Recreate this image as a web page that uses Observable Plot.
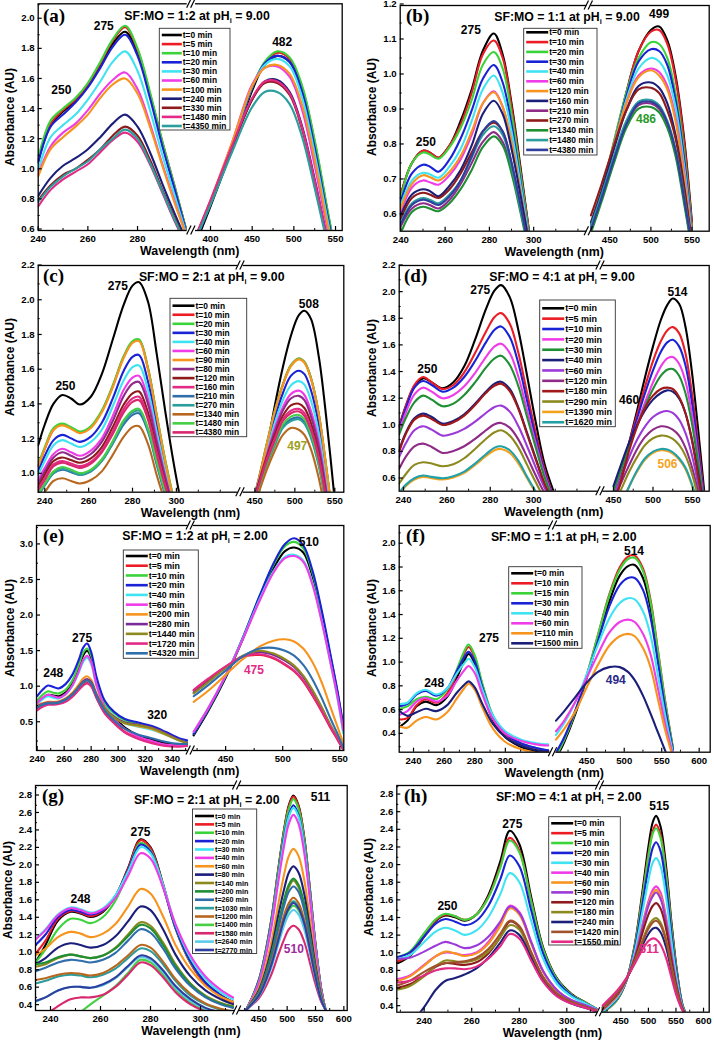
<!DOCTYPE html>
<html><head><meta charset="utf-8">
<script src="https://cdn.jsdelivr.net/npm/d3@7"></script>
<script src="https://cdn.jsdelivr.net/npm/@observablehq/plot@0.6"></script>
<style>
body{margin:0;background:#fff;}
#wrap{position:relative;width:714px;height:1040px;background:#fff;}
.panel{position:absolute;width:357px;height:260px;}
</style></head><body><div id="wrap"></div>
<script>
// ---------- palette ----------
const K = {black:"#000000", red:"#ec1c24", green:"#3ad33a", blue:"#1a22d6", cyan:"#3fe3f2", magenta:"#f03ce8",
  orange:"#f7941e", navy:"#1b1f7a", maroon:"#8e1b1b", deeppink:"#e32a85", teal:"#2b9d9d", violet:"#9b3ad8",
  purple:"#8e2c88", dkgreen:"#1f8f33", olive:"#8c8a1e", steel:"#2f6eaa", brown:"#b8681e", ltcyan:"#5ccbeb",
  navyblue:"#2e3f9e", ltgreen:"#46cf46", pink:"#d8286e"};

// ---------- (a) SF:MO = 1:2, pHi 9.00 ----------
const aNames = ["t=0 min","t=5 min","t=10 min","t=20 min","t=30 min","t=60 min","t=100 min","t=240 min","t=330 min","t=1480 min","t=4350 min"];
const aColors = [K.black,K.red,K.green,K.blue,K.cyan,K.magenta,K.orange,K.navy,K.maroon,K.deeppink,K.teal];
const aLeftX = [240,245,250,255,260,265,270,275,280,285,290,295,300];
const aLeftY = [
 [1.06,1.30,1.39,1.46,1.56,1.70,1.84,1.92,1.78,1.50,1.18,0.88,0.58],
 [1.07,1.31,1.40,1.47,1.57,1.71,1.86,1.95,1.80,1.51,1.19,0.89,0.58],
 [1.08,1.33,1.41,1.48,1.58,1.72,1.87,1.96,1.81,1.52,1.19,0.89,0.58],
 [1.05,1.29,1.37,1.45,1.55,1.68,1.82,1.90,1.76,1.48,1.16,0.87,0.57],
 [1.00,1.22,1.30,1.37,1.47,1.59,1.72,1.79,1.66,1.40,1.10,0.83,0.56],
 [0.97,1.16,1.25,1.31,1.40,1.51,1.60,1.65,1.54,1.31,1.04,0.79,0.55],
 [0.96,1.14,1.22,1.29,1.37,1.48,1.57,1.61,1.51,1.29,1.03,0.78,0.55],
 [0.83,0.95,1.03,1.08,1.14,1.22,1.31,1.37,1.29,1.12,0.91,0.71,0.52],
 [0.80,0.90,0.97,1.01,1.07,1.14,1.23,1.29,1.23,1.07,0.87,0.68,0.50],
 [0.76,0.87,0.94,0.99,1.04,1.12,1.20,1.25,1.19,1.04,0.85,0.66,0.49],
 [0.79,0.89,0.96,1.01,1.06,1.14,1.21,1.27,1.21,1.05,0.86,0.67,0.50]];
const aRightX = [385,400,425,450,465,480,495,510,525,540,550];
const aRightY = [
 [0.55,0.76,1.13,1.53,1.70,1.76,1.72,1.53,1.17,0.73,0.44],
 [0.58,0.78,1.15,1.55,1.71,1.78,1.74,1.55,1.19,0.74,0.45],
 [0.58,0.78,1.15,1.55,1.72,1.79,1.75,1.56,1.20,0.75,0.45],
 [0.57,0.78,1.15,1.55,1.71,1.76,1.72,1.52,1.15,0.71,0.43],
 [0.58,0.79,1.16,1.56,1.70,1.74,1.69,1.48,1.11,0.68,0.40],
 [0.59,0.80,1.17,1.57,1.68,1.69,1.62,1.40,1.03,0.62,0.38],
 [0.60,0.80,1.17,1.56,1.68,1.70,1.64,1.43,1.07,0.65,0.39],
 [0.59,0.79,1.14,1.47,1.59,1.60,1.52,1.29,0.94,0.55,0.33],
 [0.59,0.79,1.14,1.47,1.58,1.58,1.50,1.27,0.92,0.54,0.32],
 [0.60,0.80,1.15,1.48,1.59,1.59,1.51,1.28,0.93,0.55,0.33],
 [0.58,0.77,1.11,1.42,1.52,1.52,1.44,1.22,0.88,0.52,0.31]];
const aXTicks = [240,260,280,400,450,500,550];
const aYTicks = [0.6,0.8,1.0,1.2,1.4,1.6,1.8,2.0];
const aNoteText = ["275","250","482"], aNoteX = [266.4,249.3,486], aNoteY = [1.956,1.53,1.848], aNoteC = [K.black,K.black,K.black];

// ---------- (b) SF:MO = 1:1, pHi 9.00 ----------
const bNames = ["t=0 min","t=10 min","t=20 min","t=30 min","t=40 min","t=60 min","t=120 min","t=160 min","t=210 min","t=270 min","t=1340 min","t=1480 min","t=4380 min"];
const bColors = [K.black,K.red,K.green,K.blue,K.cyan,K.magenta,K.orange,K.navy,K.purple,K.maroon,K.dkgreen,K.teal,K.navyblue];
const bLeftX = [240,245,250,253,257,262,267,272,277,282,286,290,294,298];
const bLeftY = [
 [0.66,0.75,0.785,0.78,0.765,0.80,0.87,0.96,1.07,1.12,1.06,0.92,0.74,0.55],
 [0.66,0.75,0.785,0.78,0.765,0.80,0.86,0.95,1.06,1.10,1.05,0.91,0.73,0.55],
 [0.65,0.75,0.78,0.775,0.762,0.795,0.85,0.93,1.03,1.067,1.02,0.89,0.72,0.54],
 [0.64,0.72,0.745,0.74,0.725,0.76,0.82,0.90,0.99,1.03,0.98,0.86,0.70,0.53],
 [0.63,0.70,0.722,0.718,0.708,0.74,0.79,0.87,0.96,1.00,0.95,0.84,0.69,0.53],
 [0.61,0.68,0.70,0.695,0.688,0.715,0.76,0.83,0.92,0.955,0.91,0.81,0.67,0.52],
 [0.62,0.69,0.715,0.71,0.70,0.725,0.77,0.84,0.92,0.952,0.91,0.81,0.67,0.52],
 [0.60,0.66,0.675,0.67,0.655,0.685,0.73,0.80,0.89,0.928,0.89,0.79,0.66,0.52],
 [0.57,0.62,0.635,0.63,0.62,0.645,0.69,0.75,0.81,0.838,0.81,0.73,0.62,0.50],
 [0.59,0.65,0.665,0.66,0.65,0.675,0.72,0.78,0.84,0.865,0.84,0.75,0.63,0.50],
 [0.55,0.61,0.625,0.62,0.612,0.635,0.675,0.73,0.795,0.826,0.80,0.72,0.61,0.49],
 [0.58,0.635,0.65,0.645,0.635,0.66,0.70,0.765,0.83,0.855,0.83,0.74,0.62,0.50],
 [0.575,0.63,0.645,0.64,0.63,0.655,0.70,0.77,0.84,0.87,0.84,0.75,0.63,0.50]];
const bRightX = [427,440,455,470,485,500,510,520,530,540,550];
const bRightY = [
 [0.56,0.66,0.80,0.95,1.07,1.13,1.14,1.10,1.00,0.83,0.58],
 [0.57,0.67,0.81,0.95,1.07,1.125,1.13,1.09,0.99,0.82,0.57],
 [0.57,0.67,0.81,0.95,1.05,1.095,1.09,1.05,0.95,0.79,0.56],
 [0.57,0.67,0.80,0.94,1.04,1.075,1.07,1.03,0.93,0.77,0.55],
 [0.56,0.66,0.80,0.93,1.02,1.05,1.04,1.00,0.91,0.75,0.54],
 [0.57,0.67,0.80,0.92,1.00,1.02,1.01,0.97,0.88,0.73,0.53],
 [0.58,0.68,0.80,0.92,0.995,1.015,1.00,0.96,0.87,0.72,0.53],
 [0.58,0.67,0.79,0.90,0.97,0.98,0.965,0.92,0.83,0.69,0.52],
 [0.56,0.65,0.76,0.86,0.915,0.92,0.905,0.86,0.78,0.65,0.50],
 [0.60,0.69,0.80,0.90,0.96,0.965,0.95,0.90,0.82,0.68,0.52],
 [0.55,0.64,0.75,0.85,0.905,0.91,0.895,0.85,0.77,0.64,0.50],
 [0.57,0.66,0.77,0.87,0.925,0.93,0.915,0.87,0.79,0.66,0.51],
 [0.56,0.65,0.76,0.86,0.92,0.925,0.91,0.865,0.785,0.655,0.51]];
const bXTicks = [240,260,280,300,450,500,550];
const bYTicks = [0.6,0.7,0.8,0.9,1.0,1.1,1.2];
const bNoteText = ["275","250","499","486"], bNoteX = [271.6,251.3,510,494], bNoteY = [1.13,0.81,1.176,0.876], bNoteC = [K.black,K.black,K.black,"#2a9a2a"];

// ---------- (c) SF:MO = 2:1, pHi 9.00 ----------
const cNames = ["t=0 min","t=10 min","t=20 min","t=30 min","t=40 min","t=60 min","t=90 min","t=80 min","t=120 min","t=160 min","t=210 min","t=270 min","t=1340 min","t=1480 min","t=4380 min"];
const cColors = [K.black,K.red,K.green,K.blue,K.cyan,K.magenta,K.orange,K.purple,K.maroon,K.deeppink,K.steel,K.teal,K.brown,K.ltgreen,K.pink];
const cLeftX = [237,240,244,248,252,256,261,266,271,276,280,283,287,291,295,299,303];
const cLeftY = [
 [1.17,1.29,1.41,1.46,1.44,1.405,1.45,1.58,1.78,1.98,2.09,2.11,2.00,1.70,1.36,1.05,0.78],
 [1.05,1.15,1.26,1.29,1.27,1.245,1.275,1.365,1.51,1.68,1.765,1.775,1.615,1.345,1.075,0.845,0.64],
 [1.06,1.16,1.27,1.295,1.275,1.25,1.28,1.37,1.515,1.685,1.77,1.78,1.62,1.35,1.08,0.85,0.65],
 [1.02,1.11,1.20,1.23,1.21,1.19,1.22,1.30,1.44,1.60,1.68,1.69,1.54,1.29,1.04,0.83,0.64],
 [1.00,1.08,1.17,1.20,1.18,1.16,1.19,1.26,1.395,1.545,1.62,1.63,1.49,1.25,1.02,0.82,0.63],
 [0.97,1.04,1.12,1.15,1.13,1.11,1.14,1.21,1.34,1.49,1.56,1.57,1.44,1.21,0.99,0.80,0.62],
 [1.05,1.15,1.26,1.285,1.265,1.24,1.27,1.36,1.505,1.675,1.76,1.77,1.61,1.34,1.07,0.84,0.64],
 [0.95,1.02,1.10,1.13,1.11,1.09,1.12,1.19,1.31,1.455,1.525,1.535,1.41,1.19,0.98,0.79,0.61],
 [0.93,1.00,1.08,1.10,1.085,1.07,1.095,1.16,1.275,1.405,1.47,1.48,1.36,1.15,0.95,0.77,0.60],
 [0.92,0.98,1.06,1.08,1.065,1.05,1.075,1.14,1.25,1.38,1.44,1.45,1.33,1.13,0.94,0.76,0.60],
 [0.88,0.94,1.01,1.03,1.015,1.00,1.02,1.08,1.18,1.29,1.345,1.355,1.25,1.06,0.88,0.72,0.58],
 [0.88,0.94,1.01,1.035,1.02,1.00,1.02,1.08,1.185,1.305,1.36,1.37,1.26,1.07,0.89,0.73,0.58],
 [0.85,0.90,0.965,0.98,0.965,0.95,0.97,1.02,1.115,1.22,1.275,1.28,1.18,1.00,0.84,0.70,0.56],
 [0.89,0.95,1.02,1.045,1.03,1.01,1.03,1.09,1.195,1.315,1.37,1.38,1.27,1.08,0.90,0.74,0.59],
 [0.91,0.97,1.05,1.07,1.055,1.04,1.065,1.13,1.235,1.36,1.42,1.43,1.32,1.12,0.93,0.76,0.60]];
const cRightX = [445,455,465,475,485,495,505,512,520,530,540,550];
const cRightY = [
 [0.70,0.90,1.15,1.40,1.62,1.80,1.92,1.945,1.90,1.68,1.30,0.85],
 [0.80,0.98,1.18,1.37,1.52,1.63,1.67,1.65,1.56,1.35,1.02,0.65],
 [0.80,0.98,1.18,1.37,1.52,1.63,1.67,1.65,1.56,1.35,1.02,0.65],
 [0.80,0.97,1.16,1.33,1.47,1.57,1.60,1.58,1.49,1.29,0.98,0.62],
 [0.80,0.97,1.14,1.30,1.43,1.515,1.54,1.52,1.43,1.24,0.94,0.60],
 [0.80,0.96,1.12,1.27,1.39,1.465,1.485,1.46,1.37,1.19,0.90,0.58],
 [0.795,0.975,1.175,1.365,1.515,1.625,1.665,1.645,1.555,1.345,1.015,0.645],
 [0.80,0.96,1.11,1.25,1.37,1.44,1.455,1.43,1.34,1.16,0.88,0.56],
 [0.80,0.95,1.10,1.23,1.34,1.40,1.41,1.385,1.30,1.12,0.85,0.55],
 [0.79,0.94,1.09,1.21,1.32,1.37,1.38,1.355,1.27,1.10,0.84,0.54],
 [0.78,0.93,1.065,1.18,1.28,1.32,1.33,1.305,1.225,1.06,0.81,0.52],
 [0.78,0.92,1.06,1.17,1.27,1.31,1.32,1.295,1.215,1.05,0.80,0.52],
 [0.76,0.90,1.03,1.14,1.23,1.27,1.26,1.23,1.15,0.98,0.74,0.48],
 [0.78,0.93,1.07,1.19,1.29,1.335,1.345,1.32,1.24,1.07,0.82,0.53],
 [0.79,0.94,1.08,1.20,1.31,1.355,1.365,1.34,1.26,1.09,0.83,0.54]];
const cXTicks = [240,260,280,300,450,500,550];
const cYTicks = [1.0,1.2,1.4,1.6,1.8,2.0,2.2];
const cNoteText = ["275","250","508","497"], cNoteX = [273.3,249.4,517.5,503], cNoteY = [2.085,1.513,1.985,1.167], cNoteC = [K.black,K.black,K.black,"#a0a020"];

// ---------- (d) SF:MO = 4:1, pHi 9.00 ----------
const dNames = ["t=0 min","t=5 min","t=10 min","t=20 min","t=30 min","t=40 min","t=60 min","t=120 min","t=180 min","t=290 min","t=1390 min","t=1620 min"];
const dColors = [K.black,K.red,K.blue,K.magenta,K.dkgreen,K.navy,K.violet,K.purple,"#a01818",K.olive,"#f5a31e","#22a0a8"];
const dLeftX = [238,241,245,249,253,258,263,268,273,278,282,285,289,293,297,301,305,309];
const dLeftY = [
 [1.00,1.15,1.30,1.36,1.33,1.285,1.33,1.45,1.65,1.88,2.02,2.06,1.97,1.72,1.38,1.03,0.72,0.52],
 [0.99,1.15,1.31,1.37,1.33,1.28,1.31,1.405,1.55,1.71,1.82,1.85,1.77,1.55,1.25,0.95,0.68,0.48],
 [0.98,1.13,1.29,1.34,1.31,1.26,1.29,1.37,1.49,1.63,1.725,1.75,1.67,1.47,1.19,0.91,0.66,0.47],
 [0.96,1.10,1.24,1.29,1.26,1.21,1.235,1.30,1.40,1.52,1.60,1.62,1.55,1.37,1.12,0.87,0.64,0.46],
 [0.94,1.06,1.18,1.23,1.20,1.15,1.17,1.235,1.33,1.44,1.51,1.53,1.46,1.30,1.07,0.84,0.62,0.45],
 [0.82,0.95,1.06,1.095,1.07,1.02,1.04,1.09,1.17,1.26,1.32,1.335,1.28,1.14,0.95,0.76,0.57,0.43],
 [0.77,0.87,0.97,1.00,0.975,0.93,0.945,0.98,1.035,1.10,1.145,1.155,1.11,1.00,0.85,0.69,0.54,0.42],
 [0.68,0.77,0.85,0.87,0.845,0.80,0.815,0.85,0.905,0.97,1.015,1.025,0.99,0.90,0.77,0.63,0.50,0.40],
 [0.81,0.94,1.05,1.08,1.055,1.01,1.03,1.08,1.16,1.25,1.305,1.32,1.265,1.13,0.94,0.75,0.57,0.43],
 [0.57,0.64,0.71,0.73,0.72,0.70,0.715,0.76,0.83,0.905,0.955,0.97,0.93,0.84,0.71,0.58,0.46,0.38],
 [0.49,0.55,0.60,0.62,0.61,0.60,0.615,0.65,0.71,0.775,0.82,0.83,0.80,0.72,0.61,0.50,0.40,0.33],
 [0.50,0.56,0.61,0.63,0.62,0.61,0.625,0.66,0.72,0.79,0.84,0.85,0.82,0.74,0.62,0.51,0.41,0.33]];
const dRightX = [450,460,470,480,490,500,510,518,525,533,541,549,557,565];
const dRightY = [
 [0.45,0.65,0.88,1.12,1.37,1.60,1.80,1.91,1.96,1.92,1.75,1.42,0.98,0.50],
 [0.50,0.68,0.88,1.09,1.30,1.49,1.64,1.72,1.745,1.70,1.55,1.26,0.88,0.45],
 [0.50,0.68,0.87,1.06,1.25,1.42,1.56,1.63,1.65,1.60,1.46,1.19,0.83,0.43],
 [0.50,0.67,0.85,1.02,1.18,1.33,1.45,1.51,1.52,1.47,1.34,1.10,0.77,0.41],
 [0.51,0.68,0.85,1.01,1.15,1.28,1.38,1.425,1.43,1.38,1.25,1.03,0.73,0.40],
 [0.55,0.72,0.88,1.01,1.12,1.20,1.25,1.27,1.26,1.21,1.10,0.91,0.65,0.37],
 [0.47,0.62,0.77,0.90,1.00,1.07,1.105,1.115,1.10,1.05,0.95,0.79,0.57,0.33],
 [0.44,0.58,0.71,0.83,0.92,0.975,1.0,0.995,0.975,0.93,0.84,0.70,0.51,0.30],
 [0.40,0.60,0.82,1.00,1.14,1.23,1.28,1.29,1.28,1.22,1.10,0.90,0.63,0.36],
 [0.40,0.53,0.66,0.77,0.86,0.91,0.93,0.925,0.905,0.86,0.78,0.65,0.47,0.28],
 [0.30,0.42,0.55,0.66,0.75,0.80,0.82,0.815,0.795,0.75,0.68,0.56,0.40,0.25],
 [0.30,0.42,0.55,0.67,0.76,0.81,0.83,0.825,0.805,0.76,0.69,0.57,0.41,0.25]];
const dXTicks = [240,260,280,300,450,500,550];
const dYTicks = [0.6,0.8,1.0,1.2,1.4,1.6,1.8,2.0,2.2];
const dNoteText = ["275","250","514","460","506"], dNoteX = [275.4,251,531,469.8,518.4], dNoteY = [2.025,1.43,2.0075,1.195,0.715], dNoteC = [K.black,K.black,K.black,K.black,"#f5a31e"];

// ---------- (e) SF:MO = 1:2, pHi 2.00 ----------
const eNames = ["t=0 min","t=5 min","t=10 min","t=20 min","t=40 min","t=60 min","t=200 min","t=280 min","t=1440 min","t=1720 min","t=4320 min"];
const eColors = [K.black,K.red,K.green,K.blue,K.cyan,K.magenta,K.orange,"#7b2a9b",K.olive,K.deeppink,K.steel];
const eLeftX = [240,244,248,252,256,261,266,271,274,277,280,284,290,297,305,315,325,335,345,351];
const eLeftY = [
 [0.78,0.85,0.90,0.89,0.88,0.93,1.06,1.29,1.45,1.52,1.42,1.08,0.75,0.58,0.44,0.33,0.27,0.22,0.20,0.20],
 [0.70,0.75,0.77,0.77,0.78,0.81,0.88,0.98,1.04,1.07,1.03,0.86,0.65,0.51,0.38,0.29,0.23,0.19,0.18,0.18],
 [0.82,0.90,0.95,0.93,0.92,0.97,1.10,1.33,1.49,1.55,1.45,1.11,0.79,0.64,0.54,0.49,0.45,0.37,0.28,0.25],
 [0.88,0.97,1.03,1.01,0.99,1.05,1.18,1.40,1.56,1.62,1.50,1.15,0.82,0.66,0.56,0.51,0.46,0.38,0.29,0.26],
 [0.76,0.84,0.88,0.86,0.85,0.90,1.02,1.22,1.36,1.42,1.33,1.02,0.74,0.60,0.50,0.45,0.41,0.34,0.26,0.23],
 [0.78,0.86,0.90,0.88,0.86,0.91,1.03,1.24,1.39,1.45,1.36,1.04,0.73,0.56,0.42,0.31,0.25,0.20,0.19,0.19],
 [0.75,0.78,0.80,0.80,0.81,0.85,0.93,1.05,1.13,1.16,1.11,0.92,0.72,0.59,0.50,0.46,0.42,0.34,0.26,0.22],
 [0.74,0.77,0.79,0.79,0.80,0.84,0.91,1.02,1.09,1.12,1.08,0.90,0.71,0.59,0.51,0.48,0.44,0.36,0.27,0.23],
 [0.73,0.76,0.78,0.78,0.79,0.83,0.90,1.01,1.07,1.10,1.06,0.88,0.70,0.58,0.50,0.47,0.43,0.35,0.26,0.22],
 [0.68,0.73,0.76,0.76,0.77,0.80,0.87,0.97,1.03,1.06,1.02,0.85,0.64,0.50,0.37,0.28,0.22,0.18,0.17,0.18],
 [0.72,0.76,0.78,0.78,0.79,0.83,0.90,1.01,1.07,1.10,1.06,0.88,0.68,0.54,0.42,0.34,0.29,0.24,0.21,0.21]];
const eRightX = [422,435,450,465,480,492,502,510,518,526,534,542,548,553];
const eRightY = [
 [0.33,0.68,1.14,1.68,2.27,2.68,2.92,2.97,2.90,2.57,2.04,1.41,0.92,0.44],
 [0.96,1.12,1.29,1.43,1.46,1.41,1.32,1.23,1.09,0.89,0.67,0.43,0.27,0.13],
 [0.35,0.70,1.16,1.70,2.30,2.73,2.99,3.05,2.96,2.62,2.07,1.43,0.93,0.45],
 [0.35,0.70,1.16,1.70,2.30,2.75,3.02,3.10,3.00,2.65,2.10,1.45,0.95,0.47],
 [0.38,0.72,1.17,1.69,2.25,2.64,2.84,2.87,2.79,2.47,1.95,1.33,0.84,0.36],
 [0.38,0.72,1.17,1.68,2.23,2.62,2.82,2.85,2.77,2.45,1.94,1.34,0.87,0.40],
 [0.80,0.96,1.18,1.40,1.58,1.66,1.68,1.65,1.55,1.36,1.08,0.72,0.45,0.22],
 [0.93,1.09,1.28,1.44,1.50,1.46,1.38,1.29,1.15,0.95,0.72,0.46,0.29,0.14],
 [0.92,1.08,1.28,1.45,1.52,1.48,1.40,1.31,1.17,0.97,0.73,0.47,0.30,0.14],
 [0.97,1.13,1.30,1.44,1.47,1.42,1.33,1.24,1.10,0.90,0.68,0.44,0.28,0.13],
 [0.88,1.04,1.24,1.44,1.55,1.56,1.52,1.45,1.32,1.12,0.86,0.56,0.35,0.16]];
const eXTicks = [240,260,280,300,320,340,450,500,550];
const eYTicks = [0.5,1.0,1.5,2.0,2.5,3.0];
const eNoteText = ["275","248","320","510","475"], eNoteX = [273.3,251.9,328.9,522.9,474.8], eNoteY = [1.69,1.21,0.617,3.047,1.248], eNoteC = [K.black,K.black,K.black,K.black,K.deeppink];

// ---------- (f) SF:MO = 1:1, pHi 2.00 ----------
const fNames = ["t=0 min","t=10 min","t=15 min","t=30 min","t=40 min","t=60 min","t=110 min","t=1500 min"];
const fColors = [K.black,K.red,K.green,K.blue,K.cyan,K.magenta,K.orange,K.navy];
const fLeftX = [231,236,242,248,255,262,268,273,276,280,285,292,300,310,320,328];
const fLeftY = [
 [0.47,0.52,0.64,0.68,0.65,0.72,0.87,1.02,1.08,1.00,0.78,0.52,0.38,0.30,0.26,0.24],
 [0.53,0.54,0.65,0.70,0.67,0.75,0.91,1.08,1.14,1.05,0.82,0.55,0.40,0.32,0.28,0.26],
 [0.62,0.64,0.70,0.72,0.70,0.78,0.94,1.10,1.16,1.07,0.83,0.56,0.41,0.33,0.29,0.27],
 [0.64,0.66,0.74,0.77,0.73,0.79,0.93,1.05,1.10,1.02,0.80,0.55,0.41,0.33,0.29,0.27],
 [0.66,0.67,0.75,0.78,0.74,0.79,0.91,1.00,1.04,0.97,0.78,0.56,0.43,0.36,0.33,0.32],
 [0.57,0.60,0.68,0.71,0.68,0.73,0.85,0.94,0.98,0.92,0.74,0.53,0.41,0.35,0.32,0.31],
 [0.47,0.46,0.52,0.55,0.53,0.59,0.70,0.79,0.83,0.78,0.63,0.45,0.34,0.28,0.25,0.24],
 [0.60,0.56,0.59,0.62,0.60,0.65,0.75,0.82,0.85,0.80,0.66,0.49,0.38,0.31,0.27,0.26]];
const fRightX = [409,420,435,450,465,480,494,505,514,525,535,545,555,565];
const fRightY = [
 [0.20,0.34,0.58,0.88,1.20,1.52,1.74,1.82,1.83,1.72,1.47,1.06,0.64,0.28],
 [0.22,0.36,0.60,0.90,1.24,1.58,1.81,1.90,1.91,1.80,1.54,1.11,0.67,0.29],
 [0.22,0.36,0.60,0.90,1.24,1.57,1.79,1.88,1.89,1.78,1.52,1.10,0.66,0.29],
 [0.25,0.38,0.61,0.89,1.19,1.48,1.66,1.72,1.72,1.62,1.39,1.01,0.61,0.27],
 [0.40,0.50,0.68,0.91,1.16,1.38,1.51,1.55,1.54,1.44,1.24,0.90,0.55,0.25],
 [0.43,0.52,0.68,0.88,1.08,1.26,1.35,1.37,1.35,1.25,1.08,0.79,0.48,0.23],
 [0.36,0.45,0.60,0.80,0.99,1.15,1.23,1.25,1.23,1.13,0.97,0.70,0.43,0.21],
 [0.52,0.60,0.72,0.84,0.93,0.97,0.97,0.93,0.86,0.73,0.58,0.42,0.26,0.10]];
const fXTicks = [240,260,280,300,450,500,550,600];
const fYTicks = [0.4,0.6,0.8,1.0,1.2,1.4,1.6,1.8,2.0];
const fNoteText = ["275","248","514","494"], fNoteX = [289.3,253.5,513,488.7], fNoteY = [1.218,0.832,1.95,0.86], fNoteC = [K.black,K.black,K.black,"#2a2a8a"];

// ---------- (g) SF:MO = 2:1, pHi 2.00 ----------
const gNames = ["t=0 min","t=5 min","t=10 min","t=20 min","t=30 min","t=40 min","t=60 min","t=80 min","t=140 min","t=200 min","t=260 min","t=1030 min","t=1200 min","t=1400 min","t=1580 min","t=2640 min","t=2770 min"];
const gColors = [K.black,K.red,K.green,K.blue,K.cyan,K.magenta,K.orange,K.navy,K.olive,K.dkgreen,K.steel,K.teal,K.brown,K.ltgreen,K.pink,K.ltcyan,K.navyblue];
const gLeftX = [234,238,243,248,252,256,261,266,271,276,280,285,290,296,302,308,313];
const gLeftY = [
 [0.90,1.10,1.38,1.48,1.46,1.42,1.48,1.66,1.98,2.31,2.22,1.80,1.30,0.90,0.66,0.52,0.44],
 [1.00,1.15,1.40,1.49,1.47,1.43,1.49,1.66,1.97,2.30,2.21,1.79,1.29,0.89,0.65,0.51,0.43],
 [0.90,1.05,1.28,1.40,1.39,1.35,1.42,1.61,1.93,2.27,2.18,1.78,1.29,0.90,0.67,0.53,0.45],
 [1.10,1.22,1.42,1.50,1.48,1.45,1.50,1.66,1.95,2.25,2.17,1.77,1.30,0.91,0.67,0.53,0.45],
 [1.17,1.28,1.45,1.53,1.51,1.47,1.52,1.67,1.94,2.22,2.15,1.79,1.33,0.95,0.71,0.56,0.48],
 [1.16,1.27,1.44,1.52,1.50,1.46,1.51,1.64,1.89,2.15,2.09,1.76,1.34,0.98,0.74,0.59,0.50],
 [0.98,1.06,1.19,1.25,1.23,1.19,1.23,1.34,1.54,1.74,1.69,1.43,1.10,0.82,0.63,0.51,0.45],
 [0.88,0.95,1.07,1.12,1.10,1.07,1.10,1.20,1.37,1.54,1.50,1.28,0.99,0.74,0.58,0.48,0.42],
 [0.85,0.88,0.95,0.99,0.97,0.95,0.98,1.07,1.22,1.36,1.32,1.13,0.88,0.66,0.52,0.44,0.40],
 [0.88,0.90,0.96,0.99,0.97,0.95,0.98,1.06,1.20,1.33,1.29,1.10,0.86,0.65,0.51,0.43,0.39],
 [0.80,0.84,0.90,0.93,0.92,0.90,0.93,1.01,1.15,1.28,1.24,1.06,0.83,0.63,0.50,0.42,0.38],
 [0.66,0.69,0.74,0.76,0.75,0.73,0.76,0.83,0.95,1.06,1.03,0.88,0.69,0.52,0.42,0.36,0.33],
 [0.70,0.72,0.76,0.78,0.77,0.75,0.78,0.86,0.98,1.10,1.07,0.91,0.71,0.54,0.43,0.37,0.34],
 [0.05,0.10,0.17,0.24,0.33,0.42,0.52,0.63,0.78,0.93,0.90,0.76,0.59,0.44,0.35,0.30,0.28],
 [0.25,0.30,0.40,0.48,0.50,0.50,0.53,0.62,0.76,0.90,0.87,0.73,0.56,0.42,0.34,0.29,0.27],
 [0.45,0.50,0.58,0.62,0.62,0.61,0.64,0.72,0.85,0.96,0.93,0.79,0.61,0.46,0.37,0.32,0.30],
 [0.46,0.50,0.58,0.62,0.62,0.61,0.65,0.73,0.86,0.98,0.95,0.81,0.63,0.48,0.38,0.33,0.30]];
const gRightX = [420,427,450,470,485,495,503,511,520,530,540,550,560,568,575];
const gRightY = [
 [0.28,0.35,0.70,1.31,2.00,2.44,2.70,2.81,2.70,2.34,1.75,1.11,0.60,0.35,0.20],
 [0.28,0.35,0.69,1.30,1.99,2.43,2.69,2.80,2.69,2.33,1.75,1.11,0.60,0.35,0.20],
 [0.28,0.35,0.69,1.29,1.97,2.41,2.66,2.77,2.66,2.31,1.73,1.10,0.59,0.35,0.20],
 [0.28,0.35,0.68,1.27,1.92,2.35,2.59,2.70,2.59,2.25,1.69,1.08,0.59,0.35,0.20],
 [0.28,0.35,0.67,1.25,1.90,2.32,2.57,2.67,2.57,2.23,1.67,1.07,0.58,0.35,0.20],
 [0.28,0.35,0.66,1.22,1.85,2.25,2.49,2.59,2.49,2.16,1.63,1.04,0.57,0.35,0.20],
 [0.28,0.35,0.61,1.07,1.59,1.92,2.12,2.20,2.12,1.85,1.40,0.92,0.54,0.35,0.20],
 [0.28,0.35,0.58,0.99,1.46,1.75,1.93,2.00,1.93,1.69,1.29,0.86,0.52,0.35,0.20],
 [0.28,0.35,0.56,0.93,1.34,1.61,1.76,1.84,1.76,1.55,1.19,0.81,0.50,0.35,0.20],
 [0.28,0.35,0.56,0.94,1.36,1.63,1.79,1.86,1.79,1.57,1.21,0.82,0.50,0.35,0.20],
 [0.28,0.35,0.55,0.90,1.30,1.56,1.71,1.77,1.71,1.50,1.16,0.79,0.49,0.35,0.20],
 [0.28,0.35,0.53,0.84,1.19,1.41,1.54,1.60,1.54,1.36,1.06,0.74,0.48,0.35,0.20],
 [0.28,0.35,0.53,0.85,1.21,1.45,1.58,1.64,1.58,1.39,1.08,0.75,0.48,0.35,0.20],
 [0.28,0.35,0.52,0.82,1.15,1.37,1.50,1.55,1.50,1.32,1.03,0.72,0.47,0.35,0.20],
 [0.28,0.35,0.49,0.73,1.00,1.17,1.28,1.32,1.28,1.14,0.90,0.65,0.45,0.35,0.20],
 [0.28,0.35,0.51,0.80,1.12,1.33,1.45,1.50,1.45,1.28,1.01,0.71,0.47,0.35,0.20],
 [0.28,0.35,0.52,0.83,1.17,1.40,1.52,1.58,1.52,1.35,1.05,0.73,0.47,0.35,0.20]];
const gXTicks = [240,260,280,300,450,500,550,600];
const gYTicks = [0.4,0.6,0.8,1.0,1.2,1.4,1.6,1.8,2.0,2.2,2.4,2.6,2.8];
const gNoteText = ["275","248","511","510"], gNoteX = [276,252,558.8,511.8], gNoteY = [2.392,1.628,2.79,1.056], gNoteC = [K.black,K.black,K.black,"#a02a9a"];

// ---------- (h) SF:MO = 4:1, pHi 2.00 ----------
const hNames = ["t=0 min","t=5 min","t=10 min","t=20 min","t=30 min","t=40 min","t=60 min","t=90 min","t=120 min","t=180 min","t=240 min","t=1420 min","t=1550 min"];
const hColors = [K.black,K.red,K.green,K.blue,K.cyan,K.magenta,K.orange,K.violet,K.maroon,K.olive,K.navy,"#a0522d",K.deeppink];
const hLeftX = [229,234,240,245,249,253,257,262,267,272,276,280,285,290,296,302,308,312.5];
const hLeftY = [
 [0.90,0.98,1.20,1.38,1.44,1.42,1.38,1.45,1.67,2.05,2.40,2.25,1.65,1.08,0.72,0.55,0.45,0.38],
 [0.92,0.99,1.21,1.39,1.45,1.43,1.39,1.45,1.65,2.00,2.32,2.18,1.61,1.06,0.71,0.54,0.45,0.38],
 [0.97,1.03,1.24,1.40,1.46,1.43,1.39,1.45,1.64,1.98,2.29,2.16,1.60,1.06,0.71,0.54,0.45,0.38],
 [0.97,1.02,1.20,1.35,1.40,1.37,1.33,1.38,1.55,1.85,2.12,2.00,1.50,1.01,0.69,0.53,0.44,0.38],
 [0.95,0.99,1.14,1.26,1.30,1.27,1.22,1.27,1.42,1.68,1.92,1.82,1.38,0.95,0.66,0.52,0.44,0.38],
 [0.72,0.76,0.88,0.98,1.02,1.01,0.99,1.02,1.14,1.35,1.55,1.48,1.14,0.81,0.59,0.48,0.42,0.37],
 [0.70,0.75,0.87,0.98,1.03,1.01,0.98,1.01,1.12,1.32,1.52,1.45,1.12,0.80,0.58,0.47,0.41,0.37],
 [0.95,0.96,1.03,1.10,1.14,1.11,1.07,1.10,1.20,1.37,1.54,1.47,1.14,0.81,0.59,0.48,0.42,0.37],
 [0.62,0.66,0.76,0.86,0.90,0.89,0.88,0.91,1.01,1.19,1.37,1.31,1.02,0.74,0.55,0.46,0.40,0.36],
 [0.60,0.64,0.75,0.87,0.93,0.92,0.91,0.94,1.03,1.19,1.33,1.28,1.00,0.73,0.55,0.46,0.40,0.36],
 [0.05,0.20,0.40,0.60,0.70,0.73,0.77,0.84,0.96,1.13,1.27,1.22,0.96,0.70,0.53,0.44,0.39,0.35],
 [0.65,0.70,0.80,0.87,0.90,0.91,0.92,0.96,1.06,1.23,1.38,1.32,1.02,0.74,0.55,0.46,0.40,0.36],
 [0.68,0.70,0.76,0.82,0.84,0.84,0.83,0.86,0.95,1.09,1.23,1.18,0.93,0.69,0.52,0.44,0.39,0.35]];
const hRightX = [417,430,445,460,475,490,500,508,514,522,532,542,552,562,570];
const hRightY = [
 [0.34,0.40,0.50,0.70,1.10,1.75,2.22,2.50,2.57,2.45,2.00,1.35,0.80,0.42,0.30],
 [0.34,0.40,0.50,0.70,1.09,1.70,2.14,2.40,2.47,2.36,1.93,1.31,0.78,0.42,0.30],
 [0.34,0.40,0.50,0.70,1.08,1.68,2.11,2.37,2.43,2.32,1.90,1.29,0.77,0.42,0.30],
 [0.35,0.41,0.51,0.70,1.05,1.60,1.98,2.21,2.27,2.17,1.78,1.22,0.74,0.41,0.30],
 [0.35,0.42,0.52,0.70,1.02,1.51,1.84,2.04,2.09,2.00,1.65,1.14,0.70,0.40,0.30],
 [0.37,0.44,0.54,0.71,0.97,1.36,1.60,1.73,1.77,1.70,1.42,1.00,0.63,0.38,0.30],
 [0.37,0.44,0.54,0.71,0.96,1.34,1.57,1.69,1.73,1.66,1.39,0.98,0.62,0.38,0.30],
 [0.37,0.45,0.55,0.71,0.96,1.32,1.55,1.66,1.70,1.63,1.37,0.97,0.62,0.38,0.30],
 [0.38,0.46,0.56,0.72,0.94,1.26,1.45,1.55,1.58,1.52,1.29,0.92,0.60,0.38,0.30],
 [0.38,0.47,0.57,0.72,0.92,1.17,1.32,1.39,1.41,1.36,1.17,0.85,0.57,0.37,0.30],
 [0.40,0.48,0.58,0.72,0.90,1.11,1.23,1.29,1.30,1.25,1.08,0.80,0.54,0.37,0.30],
 [0.39,0.47,0.58,0.72,0.91,1.15,1.29,1.36,1.38,1.33,1.15,0.84,0.56,0.37,0.30],
 [0.42,0.50,0.60,0.73,0.89,1.06,1.15,1.18,1.17,1.11,0.96,0.73,0.51,0.36,0.29]];
const hXTicks = [240,260,280,300,450,500,550,600];
const hYTicks = [0.4,0.6,0.8,1.0,1.2,1.4,1.6,1.8,2.0,2.2,2.4,2.6,2.8];
const hNoteText = ["275","250","515","511"], hNoteX = [277.1,249.8,519.7,501.5], hNoteY = [2.478,1.55,2.675,1.058], hNoteC = [K.black,K.black,K.black,K.deeppink];

const ratios = ["1:2","1:1","2:1","4:1","1:2","1:1","2:1","4:1"];
const phs = ["9.00","9.00","9.00","9.00","2.00","2.00","2.00","2.00"];
const letters = ["(a)","(b)","(c)","(d)","(e)","(f)","(g)","(h)"];

// ---------- layout (pixels inside each 357x260 panel) ----------
// leg: [x0, y0, x1, y1, first row y, row step, sample length, font size]
const panels = [
 {names:aNames,colors:aColors,lx:aLeftX,ly:aLeftY,rx:aRightX,ry:aRightY,xt:aXTicks,yt:aYTicks,nt:aNoteText,nx:aNoteX,ny:aNoteY,nc:aNoteC,
  xd:[240,300,382,558], xr:[37.7,186.7,195,341.7], yd:[0.6,2.106], T:3.3, B:230, ystep:0.2, xstepL:10, xstepR:25,
  tx:197, ty:20.4, labx:43, leg:[159.3,28.3,230,130,35,9.1,20,8.4], ylx:10, yly:117},
 {names:bNames,colors:bColors,lx:bLeftX,ly:bLeftY,rx:bRightX,ry:bRightY,xt:bXTicks,yt:bYTicks,nt:bNoteText,nx:bNoteX,ny:bNoteY,nc:bNoteC,
  xd:[239.7,324,426.8,571], xr:[42.7,229.3,233.3,351.7], yd:[0.555,1.2], T:5, B:230.7, ystep:0.1, xstepL:10, xstepR:25,
  tx:210, ty:21, labx:49, leg:[166.7,28.3,240,155,32.3,9.8,22,8.5], ylx:15, yly:107},
 {names:cNames,colors:cColors,lx:cLeftX,ly:cLeftY,rx:cRightX,ry:cRightY,xt:cXTicks,yt:cYTicks,nt:cNoteText,nx:cNoteX,ny:cNoteY,nc:cNoteC,
  xd:[237,328,435.4,561.25], xr:[37.7,237.3,242.7,343.3], yd:[0.9,2.206], T:5, B:231.7, ystep:0.2, xstepL:10, xstepR:25,
  tx:211.7, ty:21, labx:43, leg:[170,38.3,246.7,176.7,45.7,9.05,22,8.4], ylx:10, yly:107},
 {names:dNames,colors:dColors,lx:dLeftX,ly:dLeftY,rx:dRightX,ry:dRightY,xt:dXTicks,yt:dYTicks,nt:dNoteText,nx:dNoteX,ny:dNoteY,nc:dNoteC,
  xd:[238,329.8,436.5,571.1], xr:[41.7,240.7,245.3,351.7], yd:[0.5125,2.2075], T:5, B:230.7, ystep:0.2, xstepL:10, xstepR:25,
  tx:205, ty:21, labx:47, leg:[182.7,40,258.3,166.7,48.3,10.36,22,9], ylx:15, yly:108},
 {names:eNames,colors:eColors,lx:eLeftX,ly:eLeftY,rx:eRightX,ry:eRightY,xt:eXTicks,yt:eYTicks,nt:eNoteText,nx:eNoteX,ny:eNoteY,nc:eNoteC,
  xd:[239.5,351.9,421.6,553.5], xr:[36,187.7,192.7,343.3], yd:[0.117,3.28], T:5, B:230, ystep:0.5, xstepL:10, xstepR:25,
  tx:195, ty:20.4, labx:43, leg:[123.3,30,198.3,138.3,36,9.73,22,8.8], ylx:10, yly:108},
 {names:fNames,colors:fColors,lx:fLeftX,ly:fLeftY,rx:fRightX,ry:fRightY,xt:fXTicks,yt:fYTicks,nt:fNoteText,nx:fNoteX,ny:fNoteY,nc:fNoteC,
  xd:[230.65,329.3,408.7,614.7], xr:[41.7,192.7,198.3,352.7], yd:[0.254,2.162], T:5, B:231.7, ystep:0.2, xstepL:10, xstepR:25,
  tx:206.7, ty:20.5, labx:49, leg:[151.7,46.7,225,128.3,53.3,10,22,8.5], ylx:15, yly:108},
 {names:gNames,colors:gColors,lx:gLeftX,ly:gLeftY,rx:gRightX,ry:gRightY,xt:gXTicks,yt:gYTicks,nt:gNoteText,nx:gNoteX,ny:gNoteY,nc:gNoteC,
  xd:[234,314,414.7,605.9], xr:[35,235,238.3,346.7], yd:[0.35,2.926], T:5, B:230, ystep:0.2, xstepL:10, xstepR:25,
  tx:206.7, ty:24.4, labx:42, leg:[192.5,29,256.7,173.5,36,8.375,19,7.2], ylx:7.5, yly:110},
 {names:hNames,colors:hColors,lx:hLeftX,ly:hLeftY,rx:hRightX,ry:hRightY,xt:hXTicks,yt:hYTicks,nt:hNoteText,nx:hNoteX,ny:hNoteY,nc:hNoteC,
  xd:[228.5,312.9,416.7,610.3], xr:[39.3,240,245,351.7], yd:[0.343,2.914], T:5, B:231.7, ystep:0.2, xstepL:10, xstepR:25,
  tx:211.7, ty:21, labx:47, leg:[191.7,36.7,263.3,165,43.3,9.87,22,8.6], ylx:12, yly:107}
];

const W = 357, H = 260;
const FONT = "'Liberation Sans', Arial, Helvetica, sans-serif";

function pts(xs, ys) { return xs.map((x, j) => ({x, y: ys[j]})).filter(d => d.y != null); }

function minorTicks(lo, hi, step, major) {
  const out = [];
  const start = Math.ceil(lo / step - 1e-9) * step;
  for (let v = start; v <= hi + 1e-9; v += step) {
    const r = Math.round(v * 1000) / 1000;
    if (!major.some(m => Math.abs(m - r) < 1e-6)) out.push(r);
  }
  return out;
}

panels.forEach((p, k) => {
  const col = k % 2, row = Math.floor(k / 2);
  const marks = [];
  p.names.forEach((n, i) => {
    marks.push(Plot.line(pts(p.lx, p.ly[i]), {x: "x", y: "y", stroke: p.colors[i], strokeWidth: 2.1, curve: "catmull-rom", clip: true}));
    marks.push(Plot.line(pts(p.rx, p.ry[i]), {x: "x", y: "y", stroke: p.colors[i], strokeWidth: 2.1, curve: "catmull-rom", clip: true}));
  });
  const yMinor = minorTicks(p.yd[0], p.yd[1], p.ystep / 2, p.yt);
  const xMinor = minorTicks(p.xd[0], p.xd[1], p.xstepL, p.xt).concat(minorTicks(p.xd[2], p.xd[3], p.xstepR, p.xt));
  marks.push(Plot.frame({stroke: "#000", strokeWidth: 1.3}));
  marks.push(Plot.axisY(p.yt, {anchor: "left", tickSize: -4, tickPadding: 7.5, dy: -1.5, tickFormat: d => d.toFixed(1), label: null, fontSize: 9.6, fontWeight: "bold", strokeWidth: 1.2}));
  marks.push(Plot.axisY(yMinor, {anchor: "left", tickSize: -2, tickFormat: () => "", label: null, strokeWidth: 1}));
  marks.push(Plot.axisX(p.xt, {anchor: "bottom", tickSize: -4, tickPadding: 8.5, tickFormat: d => String(d), label: null, fontSize: 9.6, fontWeight: "bold", strokeWidth: 1.2}));
  marks.push(Plot.axisX(xMinor, {anchor: "bottom", tickSize: -2, tickFormat: () => "", label: null, strokeWidth: 1}));
  const notes = p.nt.map((t, j) => ({t, x: p.nx[j], y: p.ny[j], c: p.nc[j]}));
  marks.push(Plot.text(notes, {x: "x", y: "y", text: "t", fill: "c", fontSize: 12, fontWeight: "bold"}));

  const chart = Plot.plot({
    width: W, height: H,
    marginLeft: p.xr[0], marginRight: W - p.xr[3], marginTop: p.T, marginBottom: H - p.B,
    style: {fontFamily: FONT, color: "#000", background: "#fff", overflow: "visible"},
    x: {type: "linear", domain: p.xd, range: p.xr, label: null},
    y: {type: "linear", domain: p.yd, range: [p.B, p.T], label: null},
    color: {type: "identity"},
    marks
  });

  const svg = d3.select(chart);
  // axis break marks
  const bx = (p.xr[1] + p.xr[2]) / 2;
  const gw = Math.max(4, p.xr[2] - p.xr[1]);
  for (const ey of [p.T, p.B]) {
    svg.append("rect").attr("x", bx - gw / 2).attr("y", ey - 2).attr("width", gw).attr("height", 4).attr("fill", "#fff");
    for (const off of [-2, 2]) {
      svg.append("line").attr("x1", bx + off - 2.2).attr("y1", ey + 4.5).attr("x2", bx + off + 2.2).attr("y2", ey - 4.5)
        .attr("stroke", "#000").attr("stroke-width", 1.2);
    }
  }
  // legend
  const [x0, y0, x1, y1, fy, dy, ll, fs] = p.leg;
  const lg = svg.append("g");
  lg.append("rect").attr("x", x0).attr("y", y0).attr("width", x1 - x0).attr("height", y1 - y0)
    .attr("fill", "#fff").attr("stroke", "#333").attr("stroke-width", 0.9);
  p.names.forEach((n, i) => {
    const yy = fy + i * dy;
    lg.append("line").attr("x1", x0 + 2.5).attr("x2", x0 + 2.5 + ll).attr("y1", yy).attr("y2", yy)
      .attr("stroke", p.colors[i]).attr("stroke-width", 2.6);
    lg.append("text").attr("x", x0 + ll + 3.5).attr("y", yy).attr("dy", "0.35em").attr("text-anchor", "start").text(n)
      .style("font-family", FONT).style("font-size", fs + "px").style("font-weight", "bold").attr("fill", "#000");
  });
  // title
  const t = svg.append("text").attr("x", p.tx).attr("y", p.ty).attr("text-anchor", "middle")
    .style("font-family", FONT).style("font-size", "12.3px").style("font-weight", "bold").attr("fill", "#000");
  t.append("tspan").text(`SF:MO = ${ratios[k]} at pH`);
  t.append("tspan").attr("dy", 2.5).style("font-size", "7.5px").text("i");
  t.append("tspan").attr("dy", -2.5).text(` = ${phs[k]}`);
  // panel letter
  svg.append("text").attr("x", p.labx).attr("y", 22).attr("text-anchor", "start").text(letters[k])
    .style("font-family", "'Liberation Serif', 'Times New Roman', serif").style("font-size", "19px").style("font-weight", "bold").attr("fill", "#000");
  // axis labels
  svg.append("text").attr("transform", `translate(${p.ylx},${p.yly}) rotate(-90)`).attr("text-anchor", "middle").attr("dy", "0.35em")
    .text("Absorbance (AU)").style("font-family", FONT).style("font-size", "12px").style("font-weight", "bold").attr("fill", "#000");
  svg.append("text").attr("x", (p.xr[0] + p.xr[3]) / 2).attr("y", p.B + 25.3).attr("text-anchor", "middle")
    .text("Wavelength (nm)").style("font-family", FONT).style("font-size", "12.4px").style("font-weight", "bold").attr("fill", "#000");

  const div = document.createElement("div");
  div.className = "panel";
  div.style.left = (col * W) + "px";
  div.style.top = (row * H) + "px";
  div.appendChild(chart);
  document.getElementById("wrap").appendChild(div);
});
</script>
</body></html>
